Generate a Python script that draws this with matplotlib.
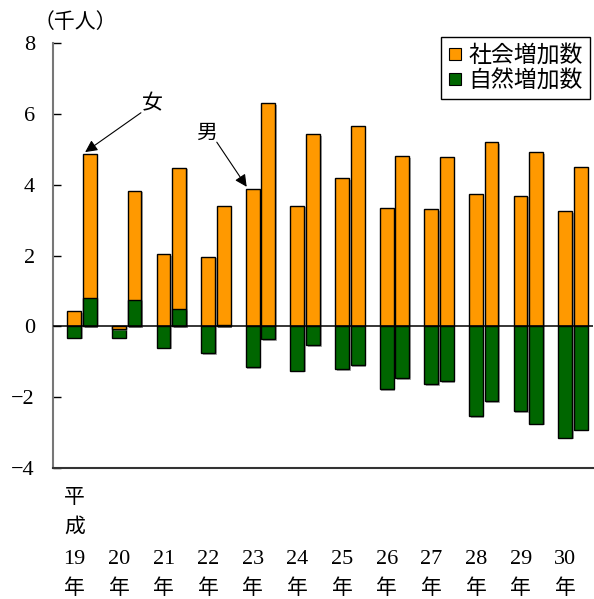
import numpy as np
import matplotlib.pyplot as plt
import matplotlib.patheffects as pe
from matplotlib.lines import Line2D
from matplotlib.transforms import blended_transform_factory

plt.rcParams['font.family'] = ['Liberation Serif', 'Noto Sans CJK JP']
plt.rcParams['axes.unicode_minus'] = True

years = ['19', '20', '21', '22', '23', '24', '25', '26', '27', '28', '29', '30']
# 千人
male_social = [0.42, -0.08, 2.03, 1.97, 3.89, 3.41, 4.19, 3.35, 3.31, 3.75, 3.69, 3.25]
male_natural = [-0.32, -0.32, -0.60, -0.76, -1.16, -1.25, -1.20, -1.77, -1.63, -2.53, -2.40, -3.14]
female_social = [4.87, 3.83, 4.48, 3.40, 6.30, 5.43, 5.66, 4.80, 4.79, 5.20, 4.92, 4.50]
female_natural = [0.81, 0.75, 0.48, 0.05, -0.37, -0.54, -1.09, -1.46, -1.55, -2.11, -2.75, -2.92]

orange = '#FF9900'
green = '#006600'
shadow = [pe.SimplePatchShadow(offset=(1.2, -1.2), shadow_rgbFace='0.45', alpha=0.6), pe.Normal()]

fig = plt.figure(figsize=(5.94, 5.99), dpi=100)
ax = fig.add_axes([53 / 594, 1 - 468 / 599, 540 / 594, 425 / 599])

x = np.arange(len(years))
w = 0.31
off = 0.175


def draw_pair(xpos, social, natural):
    # larger bar first so the shorter one stays visible on top
    for s, n, xp in zip(social, natural, xpos):
        bars = [(s, orange), (n, green)]
        bars.sort(key=lambda b: -abs(b[0]))
        for v, c in bars:
            ax.bar(xp, v, w, color=c, edgecolor='black', linewidth=1.0,
                   path_effects=shadow)


draw_pair(x - off, male_social, male_natural)
draw_pair(x + off, female_social, female_natural)

ax.axhline(0, color='black', lw=1.1, zorder=3)
ax.set_xlim(-0.65, 11.45)
ax.set_ylim(-4, 8)
ax.set_yticks(np.arange(-4, 9, 2))
ax.tick_params(axis='y', direction='in', length=6, width=1, labelsize=16, pad=13)
ax.set_xticks([])
for sp in ['top', 'right']:
    ax.spines[sp].set_visible(False)
ax.spines['left'].set_color('#777777')
ax.spines['left'].set_linewidth(1.5)
ax.spines['bottom'].set_color('#333333')
ax.spines['bottom'].set_linewidth(1.5)

fig.text(75 / 594, 1 - 22 / 599, '（千人）', fontsize=15, ha='center', va='center',
         family='Noto Sans CJK JP')

# year labels under the axis
tr = blended_transform_factory(ax.transData, fig.transFigure)
for i, y in enumerate(years):
    ax.text(i - 0.17, 1 - 559 / 599, y, transform=tr, fontsize=16,
            ha='center', va='center')
    ax.text(i - 0.17, 1 - 588 / 599, '年', transform=tr, fontsize=15,
            ha='center', va='center', family='Noto Sans CJK JP')
ax.text(-0.17, 1 - 497 / 599, '平', transform=tr, fontsize=15,
        ha='center', va='center', family='Noto Sans CJK JP')
ax.text(-0.17, 1 - 527 / 599, '成', transform=tr, fontsize=15,
        ha='center', va='center', family='Noto Sans CJK JP')

# 女 / 男 pointers
arrow = dict(arrowstyle='-|>', color='black', lw=0.8, mutation_scale=18,
             shrinkA=0, shrinkB=0)
ax.annotate('', xy=(0 + off - w / 2 + 0.05, female_social[0] + 0.05),
            xytext=(1.32, 6.03), arrowprops=arrow)
ax.text(1.57, 6.3, '女', fontsize=15, ha='center', va='center',
        family='Noto Sans CJK JP')
ax.annotate('', xy=(4 - off - w / 2 + 0.02, male_social[4] + 0.05),
            xytext=(3.02, 5.2), arrowprops=arrow)
ax.text(2.8, 5.45, '男', fontsize=15, ha='center', va='center',
        family='Noto Sans CJK JP')

handles = [Line2D([], [], marker='s', ls='none', markersize=9, markerfacecolor=orange,
                  markeredgecolor='black', markeredgewidth=0.8),
           Line2D([], [], marker='s', ls='none', markersize=9, markerfacecolor=green,
                  markeredgecolor='black', markeredgewidth=0.8)]
leg = fig.legend(handles, ['社会増加数', '自然増加数'], loc='upper right',
                 bbox_to_anchor=(590 / 594, 1 - 37 / 599), bbox_transform=fig.transFigure,
                 fancybox=False, edgecolor='black', framealpha=1, borderaxespad=0,
                 handlelength=0.6, handletextpad=0.3, borderpad=0.3, labelspacing=0.1,
                 prop={'family': 'Noto Sans CJK JP', 'size': 16.5})
leg.get_frame().set_linewidth(1.0)

fig.savefig('out.png', dpi=100)
